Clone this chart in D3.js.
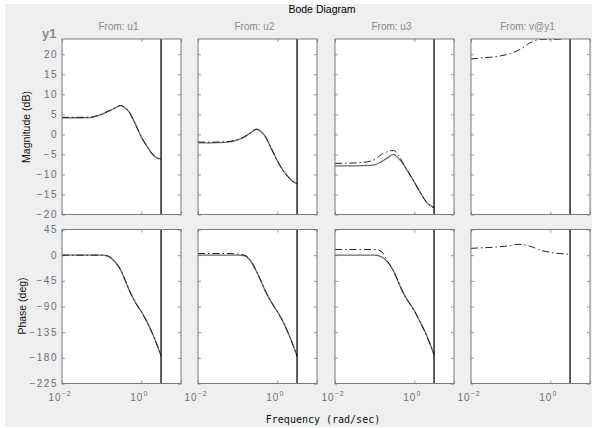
<!DOCTYPE html>
<html>
<head>
<meta charset="utf-8">
<script src="https://cdn.jsdelivr.net/npm/d3@7"></script>
<style>
  body { margin: 0; background: #fff; }
  svg { display: block; }
</style>
</head>
<body>
<div id="chart"></div>
<script>
// inputs (columns) and shared frequency grid, rad/sec
const inputs = ['u1', 'u2', 'u3', 'v@y1'];
const freq = [0.01, 0.02, 0.05, 0.1, 0.15, 0.2, 0.3, 0.4, 0.5, 0.7, 1, 1.4, 2, 2.5, 3.1416];
const nyquist = 3.1416;

const magTicks = [-20, -15, -10, -5, 0, 5, 10, 15, 20];
const phaseTicks = [-225, -180, -135, -90, -45, 0, 45];
const freqTicks = [0.01, 1, 10];
const freqLabels = [0.01, 1];

// magnitude (dB): solid = model a, dash-dot = model b
const magU1a = [4.15, 4.15, 4.2, 5.0, 5.8, 6.4, 7.15, 6.5, 5.5, 2.7, -0.7, -3.0, -5.2, -5.9, -6.2];
const magU1b = [4.25, 4.25, 4.3, 5.05, 5.85, 6.45, 7.2, 6.55, 5.5, 2.6, -0.6, -3.1, -5.1, -5.9, -6.25];
const magU2a = [-2.1, -2.1, -2.0, -1.4, -0.6, 0.2, 1.25, 0.6, -0.6, -3.5, -6.6, -9.0, -10.9, -11.8, -12.3];
const magU2b = [-1.9, -1.95, -1.85, -1.3, -0.55, 0.25, 1.3, 0.6, -0.6, -3.4, -6.6, -9.1, -10.9, -11.8, -12.25];
const magU3a = [-7.85, -7.85, -7.8, -7.6, -6.8, -6.0, -5.0, -6.0, -7.1, -9.4, -11.9, -14.4, -16.9, -17.7, -18.25];
const magU3b = [-7.25, -7.2, -7.0, -6.3, -5.0, -4.4, -4.0, -5.2, -6.9, -9.3, -11.9, -14.5, -16.8, -17.8, -18.3];
const magVb = [18.8, 19.1, 19.5, 20.2, 20.9, 21.6, 22.8, 23.3, 23.7, 23.7, 23.7, 23.7, 23.8, 24.3, 24.5];

// phase (deg)
const phU1a = [0, 0, 0, 0, -2, -9, -26, -46, -62, -82, -99, -117, -141, -158, -177];
const phU1b = [0, 0, 0, 0, -2, -9, -25, -45, -62, -83, -99, -118, -141, -158, -176];
const phU2a = [0, 0, 0, 0, -1, -8, -29, -48, -63, -82, -99, -117, -141, -158, -177];
const phU2b = [3, 3, 3, 2, 0, -7, -28, -48, -63, -82, -99, -117, -141, -158, -177];
const phU3a = [0, 0, 0, 0, -3, -10, -28, -48, -63, -81, -97, -117, -139, -156, -174];
const phU3b = [10, 10, 10, 10, 6, -8, -28, -47, -63, -81, -98, -117, -140, -156, -174];
const phVb = [12, 13, 14.5, 17, 19, 18.5, 16, 13, 10, 7, 5, 3.5, 2.5, 2, 1];

const magSolid = [magU1a, magU2a, magU3a, null];
const magDash = [magU1b, magU2b, magU3b, magVb];
const phSolid = [phU1a, phU2a, phU3a, null];
const phDash = [phU1b, phU2b, phU3b, phVb];

const W = 594, H = 428;
const colLeft = [62, 198, 335, 471];
const colW = 119;
const rows = [
  { top: 39, bottom: 214.5, domain: [-20, 23.8], ticks: magTicks, solid: magSolid, dash: magDash },
  { top: 229.5, bottom: 383.5, domain: [-225, 45], ticks: phaseTicks, solid: phSolid, dash: phDash }
];

const svg = d3.select('#chart').append('svg')
  .attr('width', W)
  .attr('height', H)
  .style('font-family', '"Liberation Sans", Arial, sans-serif');

svg.append('rect')
  .attr('x', 5).attr('y', 4)
  .attr('width', 587).attr('height', 423)
  .attr('fill', '#eeeff1');

const grey = '#7a7a7a';

rows.forEach(function (row, r) {
  const y = d3.scaleLinear().domain(row.domain).range([row.bottom, row.top]);

  inputs.forEach(function (name, c) {
    const x = d3.scaleLog().domain([0.01, 10]).range([colLeft[c], colLeft[c] + colW]);
    const g = svg.append('g');
    const clipId = 'clip' + r + c;

    g.append('clipPath').attr('id', clipId)
      .append('rect')
      .attr('x', colLeft[c]).attr('y', row.top)
      .attr('width', colW).attr('height', row.bottom - row.top);

    g.append('rect')
      .attr('x', colLeft[c]).attr('y', row.top)
      .attr('width', colW).attr('height', row.bottom - row.top)
      .attr('fill', '#fff');

    // inward ticks on all four sides
    const tickStyle = function (sel) {
      sel.select('.domain').remove();
      sel.selectAll('line').attr('stroke', grey).attr('stroke-width', 0.8);
      sel.selectAll('text').remove();
    };
    g.append('g').attr('transform', 'translate(' + colLeft[c] + ',0)')
      .call(d3.axisRight(y).tickValues(row.ticks).tickSize(3))
      .call(tickStyle);
    g.append('g').attr('transform', 'translate(' + (colLeft[c] + colW) + ',0)')
      .call(d3.axisLeft(y).tickValues(row.ticks).tickSize(3))
      .call(tickStyle);
    g.append('g').attr('transform', 'translate(0,' + row.top + ')')
      .call(d3.axisBottom(x).tickValues(freqTicks).tickSize(3))
      .call(tickStyle);
    g.append('g').attr('transform', 'translate(0,' + row.bottom + ')')
      .call(d3.axisTop(x).tickValues(freqTicks).tickSize(3))
      .call(tickStyle);

    const line = d3.line()
      .defined(d => d[1] != null)
      .x(d => x(d[0]))
      .y(d => y(d[1]))
      .curve(d3.curveMonotoneX);

    const plot = g.append('g').attr('clip-path', 'url(#' + clipId + ')');
    if (row.solid[c]) {
      plot.append('path')
        .datum(freq.map((f, i) => [f, row.solid[c][i]]))
        .attr('fill', 'none')
        .attr('stroke', '#6a6a6a')
        .attr('stroke-width', 1.3)
        .attr('d', line);
    }
    if (row.dash[c]) {
      plot.append('path')
        .datum(freq.map((f, i) => [f, row.dash[c][i]]))
        .attr('fill', 'none')
        .attr('stroke', '#222')
        .attr('stroke-width', 1)
        .attr('stroke-dasharray', '7,3,1.5,3')
        .attr('d', line);
    }

    // nyquist frequency marker
    g.append('line')
      .attr('x1', x(nyquist)).attr('x2', x(nyquist))
      .attr('y1', row.top).attr('y2', row.bottom)
      .attr('stroke', '#000')
      .attr('stroke-width', 1.3);

    g.append('rect')
      .attr('x', colLeft[c]).attr('y', row.top)
      .attr('width', colW).attr('height', row.bottom - row.top)
      .attr('fill', 'none')
      .attr('stroke', grey)
      .attr('stroke-width', 1);

    // y tick labels on the first column only
    if (c === 0) {
      g.selectAll('.ylab')
        .data(row.ticks)
        .enter()
        .append('text')
        .attr('x', colLeft[c] - 4)
        .attr('y', d => y(d))
        .attr('dy', '0.35em')
        .attr('text-anchor', 'end')
        .attr('fill', '#6e6e6e')
        .style('font-size', '10px')
        .style('letter-spacing', '1.5px')
        .text(d => d < 0 ? '\u2212' + Math.abs(d) : d);
    }

    // x tick labels under the phase row
    if (r === 1) {
      const lab = g.selectAll('.xlab')
        .data(freqLabels)
        .enter()
        .append('text')
        .attr('x', d => x(d) - 2)
        .attr('y', row.bottom + 17)
        .attr('text-anchor', 'middle')
        .attr('fill', '#6e6e6e')
        .style('font-size', '10px')
        .style('letter-spacing', '1px');
      lab.append('tspan').text('10');
      lab.append('tspan')
        .attr('dy', -5)
        .style('font-size', '7px')
        .text(d => Math.round(Math.log10(d)) < 0 ? '\u2212' + Math.abs(Math.round(Math.log10(d))) : Math.round(Math.log10(d)));
    }

    if (r === 0) {
      svg.append('text')
        .attr('x', colLeft[c] + colW / 2 - 3)
        .attr('y', 30)
        .attr('text-anchor', 'middle')
        .attr('fill', '#8a8a8a')
        .style('font-size', '10px')
        .text('From: ' + name);
    }
  });
});

svg.append('text')
  .attr('x', 322).attr('y', 13)
  .attr('text-anchor', 'middle')
  .attr('fill', '#000')
  .style('font-size', '10.5px')
  .text('Bode Diagram');

svg.append('text')
  .attr('x', 42).attr('y', 38)
  .attr('fill', '#8a8a8a')
  .style('font-size', '13px')
  .style('font-weight', 'bold')
  .text('y1');

svg.append('text')
  .attr('transform', 'translate(30,127) rotate(-90)')
  .attr('text-anchor', 'middle')
  .attr('fill', '#111')
  .style('font-size', '10.5px')
  .text('Magnitude (dB)');

svg.append('text')
  .attr('transform', 'translate(26,306) rotate(-90)')
  .attr('text-anchor', 'middle')
  .attr('fill', '#111')
  .style('font-size', '10.5px')
  .text('Phase (deg)');

svg.append('text')
  .attr('x', 323).attr('y', 423)
  .attr('text-anchor', 'middle')
  .attr('fill', '#111')
  .style('font-family', '"DejaVu Sans Mono", monospace')
  .style('font-size', '10px')
  .text('Frequency (rad/sec)');
</script>
</body>
</html>
